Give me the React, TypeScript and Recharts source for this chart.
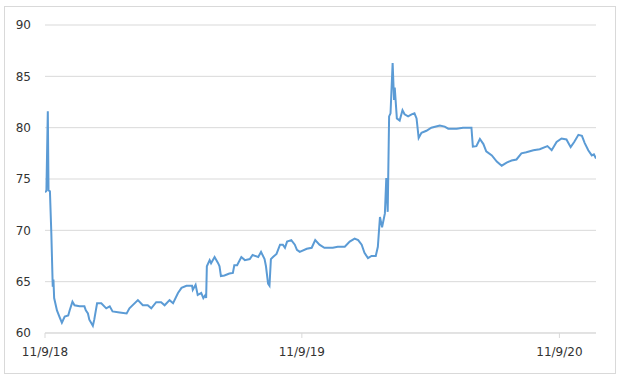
import { LineChart, Line, XAxis, YAxis, CartesianGrid } from 'recharts';

// Trading dates and closing values
const dates = [
  '2018-11-09', '2018-11-11', '2018-11-13', '2018-11-14', '2018-11-16', '2018-11-18', '2018-11-20', '2018-11-21',
  '2018-11-22', '2018-11-26', '2018-11-30', '2018-12-03', '2018-12-07', '2018-12-12', '2018-12-14', '2018-12-18',
  '2018-12-21', '2018-12-28', '2019-01-04', '2019-01-06', '2019-01-09', '2019-01-11', '2019-01-16', '2019-01-18',
  '2019-01-22', '2019-01-28', '2019-02-04', '2019-02-09', '2019-02-13', '2019-02-23', '2019-03-05', '2019-03-09',
  '2019-03-21', '2019-03-28', '2019-04-04', '2019-04-09', '2019-04-16', '2019-04-23', '2019-04-28', '2019-05-05',
  '2019-05-10', '2019-05-17', '2019-05-22', '2019-05-29', '2019-06-06', '2019-06-07', '2019-06-11', '2019-06-14',
  '2019-06-19', '2019-06-22', '2019-06-25', '2019-06-26', '2019-06-27', '2019-07-01', '2019-07-03', '2019-07-08',
  '2019-07-13', '2019-07-15', '2019-07-17', '2019-07-22', '2019-07-29', '2019-08-03', '2019-08-05', '2019-08-09',
  '2019-08-15', '2019-08-20', '2019-08-27', '2019-08-31', '2019-09-08', '2019-09-12', '2019-09-17', '2019-09-19',
  '2019-09-22', '2019-09-24', '2019-09-26', '2019-09-29', '2019-10-04', '2019-10-09', '2019-10-13', '2019-10-16',
  '2019-10-19', '2019-10-25', '2019-10-30', '2019-11-02', '2019-11-06', '2019-11-16', '2019-11-23', '2019-11-28',
  '2019-12-04', '2019-12-11', '2019-12-16', '2019-12-23', '2019-12-30', '2020-01-09', '2020-01-16', '2020-01-23',
  '2020-01-28', '2020-02-02', '2020-02-06', '2020-02-11', '2020-02-16', '2020-02-22', '2020-02-25', '2020-02-28',
  '2020-03-02', '2020-03-06', '2020-03-08', '2020-03-10', '2020-03-12', '2020-03-14', '2020-03-17', '2020-03-19',
  '2020-03-20', '2020-03-23', '2020-03-27', '2020-03-31', '2020-04-03', '2020-04-08', '2020-04-13', '2020-04-17',
  '2020-04-20', '2020-04-23', '2020-04-27', '2020-05-04', '2020-05-11', '2020-05-23', '2020-05-30', '2020-06-04',
  '2020-06-16', '2020-06-25', '2020-07-07', '2020-07-09', '2020-07-14', '2020-07-19', '2020-07-24', '2020-07-28',
  '2020-08-05', '2020-08-12', '2020-08-19', '2020-08-26', '2020-09-02', '2020-09-09', '2020-09-16', '2020-09-23',
  '2020-10-03', '2020-10-12', '2020-10-23', '2020-10-29', '2020-11-05', '2020-11-12', '2020-11-19', '2020-11-25',
  '2020-11-30', '2020-12-06', '2020-12-11', '2020-12-15', '2020-12-20', '2020-12-25', '2020-12-28', '2020-12-31',
];

const values = [
  73.7, 73.85, 81.6, 73.9, 73.8, 69.7, 64.5, 65.2,
  63.4, 62.2, 61.5, 61.0, 61.6, 61.7, 62.2, 63.05,
  62.7, 62.6, 62.6, 62.2, 61.9, 61.3, 60.7, 61.3,
  62.9, 62.9, 62.4, 62.6, 62.1, 62.0, 61.9, 62.4,
  63.2, 62.7, 62.7, 62.4, 63.0, 63.0, 62.7, 63.2,
  62.9, 63.9, 64.4, 64.6, 64.6, 64.2, 64.7, 63.7,
  63.9, 63.4, 63.7, 63.4, 66.5, 67.1, 66.8, 67.4,
  66.8, 66.5, 65.55, 65.6, 65.8, 65.85, 66.6, 66.6,
  67.4, 67.1, 67.2, 67.6, 67.4, 67.9, 67.2, 66.5,
  64.8, 64.6, 67.2, 67.4, 67.7, 68.6, 68.6, 68.3,
  68.9, 69.05, 68.6, 68.1, 67.9, 68.2, 68.3, 69.05,
  68.6, 68.3, 68.3, 68.3, 68.4, 68.4, 68.9, 69.2,
  69.05, 68.6, 67.8, 67.3, 67.5, 67.5, 68.4, 71.3,
  70.3, 71.65, 75.1, 71.8, 81.1, 81.4, 86.3, 82.7,
  83.9, 80.9, 80.7, 81.7, 81.3, 81.1, 81.3, 81.4,
  80.9, 79.0, 79.5, 79.7, 80.0, 80.2, 80.1, 79.9,
  79.9, 80.0, 80.0, 78.15, 78.2, 78.9, 78.4, 77.7,
  77.3, 76.7, 76.3, 76.6, 76.8, 76.9, 77.5, 77.6,
  77.8, 77.9, 78.2, 77.8, 78.6, 78.95, 78.85, 78.1,
  78.6, 79.3, 79.2, 78.5, 77.8, 77.3, 77.4, 77.0,
];

const tickDates = ['2018-11-09', '2019-11-09', '2020-11-09'];
const yTicks = [60, 65, 70, 75, 80, 85, 90];

const chartData = dates.map((d, i) => ({ t: Date.parse(d), value: values[i] }));
const xTicks = tickDates.map(d => Date.parse(d));

const formatDate = (ts: number) => {
  const d = new Date(ts);
  return `${d.getUTCMonth() + 1}/${d.getUTCDate()}/${String(d.getUTCFullYear()).slice(2)}`;
};

const tickStyle = { fontFamily: '"DejaVu Sans", sans-serif', fontSize: 12, fill: '#333333' };

const App = () => {
  return (
    <div
      style={{
        position: 'absolute',
        left: 4,
        top: 6,
        width: 612,
        height: 368,
        border: '1px solid #d9d9d9',
        boxSizing: 'border-box',
        background: '#fff',
      }}
    >
      <LineChart
        width={610}
        height={366}
        data={chartData}
        margin={{ top: 18, right: 19, left: 0, bottom: 7 }}
      >
        <CartesianGrid vertical={false} stroke="#d9d9d9" strokeWidth={1} />
        <XAxis
          dataKey="t"
          type="number"
          scale="time"
          domain={[xTicks[0], chartData[chartData.length - 1].t]}
          ticks={xTicks}
          tickFormatter={formatDate}
          tick={tickStyle}
          tickSize={5}
          tickMargin={9}
          tickLine={{ stroke: '#d9d9d9' }}
          axisLine={{ stroke: '#d9d9d9' }}
          height={33}
          interval={0}
          allowDataOverflow
        />
        <YAxis
          domain={[60, 90]}
          ticks={yTicks}
          tick={tickStyle}
          tickSize={0}
          tickMargin={14}
          axisLine={false}
          tickLine={false}
          width={40}
          interval={0}
        />
        <Line
          type="linear"
          dataKey="value"
          stroke="#5b9bd5"
          strokeWidth={2}
          dot={false}
          isAnimationActive={false}
        />
      </LineChart>
    </div>
  );
};

export default App;
